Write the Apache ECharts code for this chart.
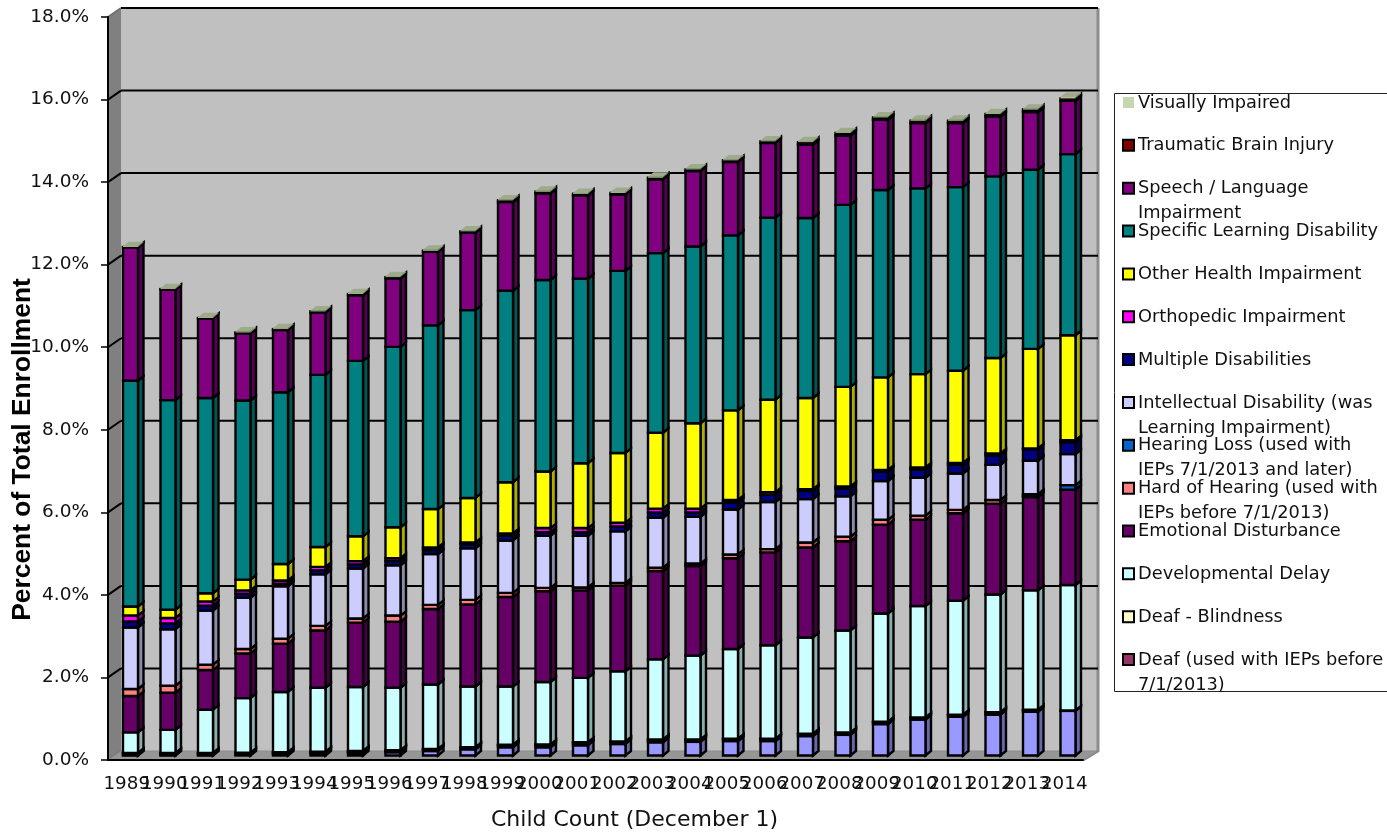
<!DOCTYPE html>
<html>
<head>
<meta charset="utf-8">
<title>Percent of Total Enrollment by Disability</title>
<style>html,body{margin:0;padding:0;background:#fff}#chart{width:1387px;height:833px}</style>
<script src="https://cdn.jsdelivr.net/npm/echarts@6/dist/echarts.min.js"></script>
</head>
<body>
<div id="chart"></div>
<script>
const categories = ['1989','1990','1991','1992','1993','1994','1995','1996','1997','1998','1999','2000','2001','2002','2003','2004','2005','2006','2007','2008','2009','2010','2011','2012','2013','2014'];
const yTicks = [0,2,4,6,8,10,12,14,16,18];

// Percent of total enrollment per year, listed from the bottom of each stack upward.
const autism = [.01,.01,.01,.02,.03,.04,.06,.08,.11,.15,.20,.20,.25,.28,.32,.33,.35,.35,.47,.50,.76,.87,.94,.99,1.06,1.08];
const deaf = [.04,.04,.04,.04,.04,.04,.04,.04,.04,.04,.05,.06,.06,.05,.06,.05,.05,.05,.05,.05,.05,.04,.04,.05,.04,0];
const deafBlindness = [.01,.01,.01,.01,.01,.01,.01,.01,.01,.01,.01,.01,.01,.01,.01,.01,.01,.01,.01,.01,.01,.01,.01,.01,.01,.01];
const developmentalDelay = [.50,.56,1.05,1.32,1.46,1.55,1.55,1.51,1.56,1.47,1.41,1.51,1.56,1.70,1.94,2.03,2.17,2.26,2.33,2.47,2.62,2.70,2.76,2.85,2.89,3.04];
const emotionalDisturbance = [.88,.90,.96,1.08,1.17,1.39,1.56,1.60,1.83,1.99,2.17,2.20,2.12,2.07,2.14,2.17,2.20,2.25,2.18,2.16,2.15,2.09,2.12,2.20,2.26,2.31];
const hardOfHearing = [.17,.17,.13,.11,.12,.11,.10,.15,.10,.11,.10,.08,.07,.07,.08,.06,.09,.08,.12,.11,.12,.10,.08,.09,.03,0];
const hearingLoss = [0,0,0,0,0,0,0,0,0,0,0,0,0,0,0,0,0,0,0,0,0,0,0,0,.04,.11];
const intellectualDisability = [1.49,1.37,1.31,1.24,1.27,1.25,1.21,1.22,1.23,1.25,1.27,1.26,1.25,1.25,1.21,1.13,1.09,1.14,1.05,.98,.94,.92,.88,.85,.81,.75];
const multipleDisabilities = [.15,.14,.12,.10,.06,.10,.10,.10,.10,.10,.11,.09,.09,.12,.13,.11,.17,.18,.20,.19,.23,.20,.21,.23,.28,.29];
const orthopedicImpairment = [.14,.13,.10,.08,.08,.08,.08,.07,.06,.04,.06,.10,.10,.09,.09,.09,.06,.06,.04,.05,.04,.05,.05,.05,.02,.05];
const otherHealthImpairment = [.22,.20,.20,.26,.40,.48,.60,.75,.93,1.08,1.24,1.37,1.57,1.69,1.84,2.07,2.17,2.24,2.21,2.41,2.24,2.26,2.23,2.31,2.41,2.54];
const specificLearningDisability = [5.47,5.08,4.73,4.34,4.16,4.17,4.25,4.37,4.45,4.55,4.64,4.64,4.47,4.41,4.35,4.28,4.24,4.41,4.36,4.41,4.54,4.50,4.45,4.40,4.34,4.39];
const speechLanguageImpairment = [3.23,2.68,1.93,1.63,1.51,1.51,1.59,1.66,1.78,1.88,2.15,2.10,2.02,1.85,1.79,1.83,1.78,1.81,1.78,1.68,1.70,1.58,1.55,1.45,1.40,1.29];
const traumaticBrainInjury = [.01,.01,.01,.02,.02,.03,.03,.03,.03,.03,.04,.04,.04,.04,.04,.04,.04,.04,.06,.06,.06,.06,.06,.06,.06,.06];
const visuallyImpaired = [.02,.02,.02,.02,.02,.02,.02,.02,.02,.02,.02,.02,.02,.02,.02,.02,.02,.02,.02,.02,.02,.02,.02,.02,.02,.03];

const layers = [
  { name: 'Autism', label: null, color: '#9999FF', values: autism },
  { name: 'Deaf', label: 'Deaf (used with IEPs before\n7/1/2013)', color: '#993366', values: deaf },
  { name: 'Deaf - Blindness', label: 'Deaf - Blindness', color: '#FFFFCC', values: deafBlindness },
  { name: 'Developmental Delay', label: 'Developmental Delay', color: '#CCFFFF', values: developmentalDelay },
  { name: 'Emotional Disturbance', label: 'Emotional Disturbance', color: '#660066', values: emotionalDisturbance },
  { name: 'Hard of Hearing', label: 'Hard of Hearing (used with\nIEPs before 7/1/2013)', color: '#FF8080', values: hardOfHearing },
  { name: 'Hearing Loss', label: 'Hearing Loss (used with\nIEPs 7/1/2013 and later)', color: '#0066CC', values: hearingLoss },
  { name: 'Intellectual Disability', label: 'Intellectual Disability (was\nLearning Impairment)', color: '#CCCCFF', values: intellectualDisability },
  { name: 'Multiple Disabilities', label: 'Multiple Disabilities', color: '#000080', values: multipleDisabilities },
  { name: 'Orthopedic Impairment', label: 'Orthopedic Impairment', color: '#FF00FF', values: orthopedicImpairment },
  { name: 'Other Health Impairment', label: 'Other Health Impairment', color: '#FFFF00', values: otherHealthImpairment },
  { name: 'Specific Learning Disability', label: 'Specific Learning Disability', color: '#008080', values: specificLearningDisability },
  { name: 'Speech / Language Impairment', label: 'Speech / Language\nImpairment', color: '#800080', values: speechLanguageImpairment },
  { name: 'Traumatic Brain Injury', label: 'Traumatic Brain Injury', color: '#800000', values: traumaticBrainInjury },
  { name: 'Visually Impaired', label: 'Visually Impaired', color: '#C6D6B0', values: visuallyImpaired, plain: true }
];

// Oblique offsets of the 3-D box: wall depth, and where a column sits inside it.
const WALL_DX = 13, WALL_DY = -9, WALL_RIGHT_DX = 15;
const BAR_DX = 3.75, BAR_DY = -4.5, BAR_W = 15, SIDE_DX = 5.5, SIDE_DY = -4.5;
const textFont = '"DejaVu Sans", Verdana, sans-serif';
const titleFont = '"Liberation Sans", Arial, sans-serif';

function shade(hex, k) {
  const n = parseInt(hex.slice(1), 16);
  const c = [n >> 16, (n >> 8) & 255, n & 255].map(v => Math.round(v * k));
  return `rgb(${c[0]},${c[1]},${c[2]})`;
}

// Running totals turn each layer into a [category, from, to] band.
const running = categories.map(() => 0);
const barSeries = layers.map(layer => {
  const data = layer.values.map((v, i) => {
    const row = [i, running[i], running[i] + v];
    running[i] += v;
    return row;
  });
  const stroke = layer.plain ? null : '#000';
  const lw = layer.plain ? 0 : 2.4;
  return {
    type: 'custom', name: layer.name, coordinateSystem: 'cartesian2d', silent: true,
    animation: false, data, z: 5,
    renderItem(params, api) {
      const from = api.value(1), to = api.value(2);
      if (to - from <= 0) return { type: 'group', children: [] };
      const low = api.coord([api.value(0), from]);
      const high = api.coord([api.value(0), to]);
      const xl = low[0] - BAR_W / 2 + BAR_DX, xr = xl + BAR_W;
      const yb = low[1] + BAR_DY, yt = high[1] + BAR_DY;
      const children = [
        { type: 'polygon', shape: { points: [[xr, yb], [xr + SIDE_DX, yb + SIDE_DY], [xr + SIDE_DX, yt + SIDE_DY], [xr, yt]] },
          style: { fill: shade(layer.color, 0.68), stroke, lineWidth: lw } },
        { type: 'rect', shape: { x: xl, y: yt, width: BAR_W, height: yb - yt },
          style: { fill: layer.color, stroke, lineWidth: lw } }
      ];
      if (layer.plain) {
        children.push({ type: 'polygon', shape: { points: [[xl, yt], [xr, yt], [xr + SIDE_DX, yt + SIDE_DY], [xl + SIDE_DX, yt + SIDE_DY]] },
          style: { fill: '#9EAB8A' } });
      }
      return { type: 'group', children };
    }
  };
});

// Back wall, side wall and floor of the box.
const wallSeries = {
  type: 'custom', name: 'walls', coordinateSystem: 'cartesian2d', silent: true, animation: false,
  data: [[0, 0]], z: 1,
  renderItem(params) {
    const s = params.coordSys;
    const L = s.x, T = s.y, R = s.x + s.width, B = s.y + s.height;
    const bl = L + WALL_DX, br = R + WALL_RIGHT_DX, bt = T + WALL_DY, bb = B + WALL_DY;
    return { type: 'group', children: [
      { type: 'polygon', shape: { points: [[bl, bt], [br, bt], [br, bb], [bl, bb]] }, style: { fill: '#C0C0C0' } },
      { type: 'polygon', shape: { points: [[L, T], [bl, bt], [bl, bb], [L, B]] }, style: { fill: '#808080' } },
      { type: 'polyline', shape: { points: [[br, bt], [br, bb], [R, B]] }, style: { fill: 'none', stroke: '#8C8C8C', lineWidth: 3 } }
    ] };
  }
};

// Gridlines run across the back wall and fold down the side wall to the axis.
const gridSeries = {
  type: 'custom', name: 'gridlines', coordinateSystem: 'cartesian2d', silent: true, animation: false,
  data: yTicks.map(v => [0, v]), z: 2,
  renderItem(params, api) {
    const s = params.coordSys;
    const v = api.value(1);
    const y = api.coord([0, v])[1];
    const edge = v === yTicks[0] || v === yTicks[yTicks.length - 1];
    const bl = s.x + WALL_DX, by = y + WALL_DY, br = s.x + s.width + WALL_RIGHT_DX;
    const children = [
      { type: 'line', shape: { x1: s.x, y1: y, x2: bl, y2: by }, style: { stroke: edge ? '#707070' : '#000', lineWidth: 2 } }
    ];
    if (v !== yTicks[0]) {
      children.push({ type: 'line', shape: { x1: bl, y1: by, x2: br, y2: by }, style: { stroke: '#000', lineWidth: 2 } });
    }
    return { type: 'group', children };
  }
};

// Floor is separate so it can sit on top of the wall edge.
const floorSeries = {
  type: 'custom', name: 'floor', coordinateSystem: 'cartesian2d', silent: true, animation: false,
  data: [[0, 0]], z: 3,
  renderItem(params) {
    const s = params.coordSys;
    const L = s.x, R = s.x + s.width, B = s.y + s.height;
    return { type: 'polygon', shape: { points: [[L, B], [R, B], [R + WALL_RIGHT_DX, B + WALL_DY], [L + WALL_DX, B + WALL_DY]] },
      style: { fill: '#969696', stroke: '#8C8C8C', lineWidth: 1 } };
  }
};

// Legend panel: listed from the top of the stack down, wrapped labels overlap the next row.
const LEGEND_X = 1123, LEGEND_TOP = 102.5, LEGEND_STEP = 42.85;
const legendItems = layers.filter(l => l.label).reverse();
const legendGraphics = [
  { type: 'rect', shape: { x: 1114.5, y: 93.5, width: 320, height: 598 }, style: { fill: '#fff', stroke: '#222', lineWidth: 1 }, z: 20 }
];
legendItems.forEach((item, i) => {
  const cy = LEGEND_TOP + i * LEGEND_STEP;
  legendGraphics.push({
    type: 'rect', shape: { x: LEGEND_X, y: cy - 5.5, width: 11, height: 11 },
    style: item.plain ? { fill: item.color } : { fill: item.color, stroke: '#000', lineWidth: 2 }, z: 21
  });
  legendGraphics.push({
    type: 'text', x: 1138, y: cy - 12, z: 21,
    style: { text: item.label, fill: '#111', font: `17.8px ${textFont}`, lineHeight: 25, verticalAlign: 'top', align: 'left' }
  });
});

const chart = echarts.init(document.getElementById('chart'), null, { renderer: 'canvas' });
chart.setOption({
  animation: false,
  backgroundColor: '#fff',
  grid: { left: 108, right: 304, top: 17, bottom: 73, outerBoundsMode: 'none' },
  xAxis: {
    type: 'category', data: categories, z: 10,
    name: 'Child Count (December 1)', nameLocation: 'middle', nameGap: 49,
    nameTextStyle: { fontFamily: textFont, fontSize: 22, color: '#111', padding: [0, 0, 0, 78] },
    axisLine: { lineStyle: { color: '#000', width: 2 } },
    axisTick: { length: 5, lineStyle: { color: '#000', width: 1.5 } },
    axisLabel: { interval: 0, hideOverlap: false, fontFamily: textFont, fontSize: 18.3, color: '#111', margin: 15 },
    splitLine: { show: false }
  },
  yAxis: {
    type: 'value', min: 0, max: 18, interval: 2, z: 10,
    name: 'Percent of Total Enrollment', nameLocation: 'middle', nameGap: 72, nameRotate: 90, nameMoveOverlap: false,
    nameTextStyle: { fontFamily: titleFont, fontSize: 26.4, fontWeight: 'bold', color: '#000', padding: [0, 122, 0, 0] },
    axisLine: { show: true, lineStyle: { color: '#000', width: 2 } },
    axisTick: { show: true, length: 7, lineStyle: { color: '#000', width: 1.5 } },
    axisLabel: { formatter: v => v.toFixed(1) + '%', fontFamily: textFont, fontSize: 18.5, color: '#111', margin: 19 },
    splitLine: { show: false }
  },
  graphic: legendGraphics,
  series: [wallSeries, gridSeries, floorSeries, ...barSeries]
});
</script>
</body>
</html>
